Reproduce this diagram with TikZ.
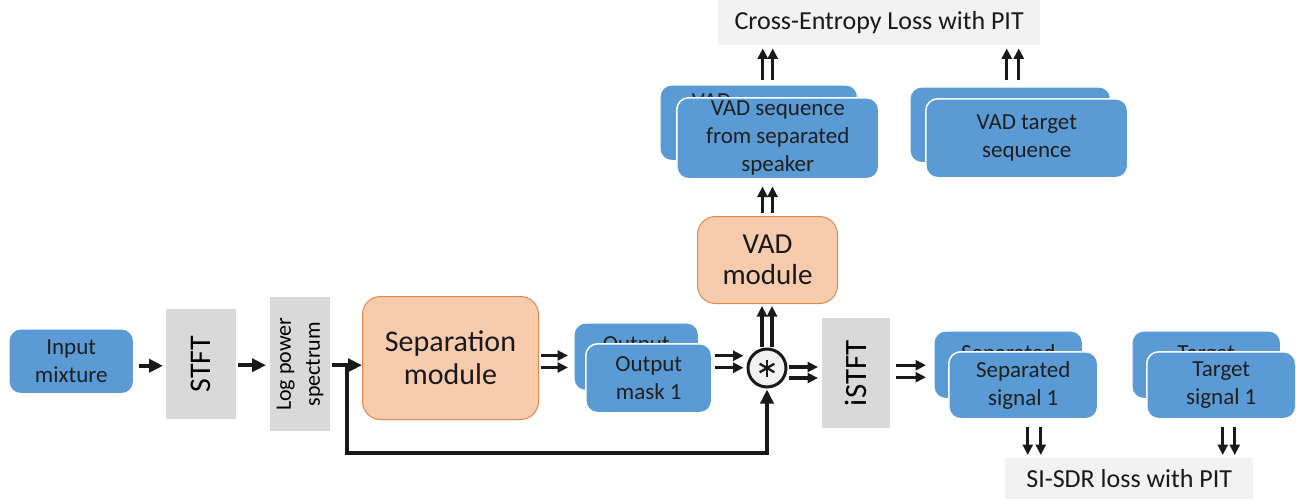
\documentclass[tikz,border=0pt]{standalone}
\usepackage{fontspec}
\setmainfont{Carlito}
\usetikzlibrary{arrows.meta,calc}
\definecolor{boxblue}{HTML}{5B9BD5}
\definecolor{modfill}{HTML}{F8CBAD}
\definecolor{moddraw}{HTML}{E08850}
\definecolor{procgray}{HTML}{D9D9D9}
\definecolor{lossgray}{HTML}{F2F2F2}
\begin{document}
\begin{tikzpicture}[x=1pt,y=-1pt,
  blk/.style={anchor=north west, inner sep=0pt, align=center},
  sig/.style={blk, fill=boxblue, draw=white, line width=1.5pt, rounded corners=12pt,
    text=black!88, font=\fontsize{23}{28}\selectfont},
  peek/.style={anchor=base, inner sep=0pt, text=black!88, font=\fontsize{23}{28}\selectfont},
  proc/.style={blk, fill=procgray},
  module/.style={blk, fill=modfill, draw=moddraw, line width=1pt, rounded corners=18pt,
    text=black!90},
  loss/.style={blk, fill=lossgray, text=black!90, font=\fontsize{26}{30}\selectfont},
  one/.style={-{Triangle[length=14pt,width=13pt]}, line width=4pt, black!90},
  dbl/.style={-{Triangle[length=10.5pt,width=10pt]}, line width=3.2pt, black!90},
]
\useasboundingbox (0,0) rectangle (1296,499);

% input and front end
\node[sig, minimum width=125pt, minimum height=65pt] (inp) at (8,328) {Input\\mixture};
\node[proc, minimum width=70pt, minimum height=110pt] (stft) at (166,309)
  {\rotatebox{90}{\fontsize{30}{30}\selectfont STFT}};
\node[proc, minimum width=60pt, minimum height=134pt] (lps) at (270,297)
  {\rotatebox{90}{\parbox{120pt}{\centering\fontsize{22}{29}\selectfont Log power\\spectrum}}};

% separation
\node[module, minimum width=176pt, minimum height=123pt, font=\fontsize{30}{33}\selectfont]
  (sep) at (362,296) {Separation\\module};

% masks (second speaker behind the first)
\node[sig, minimum width=125pt, minimum height=68pt] (m2) at (573,322) {};
\node[peek] (m2txt) at ($(m2.north)+(0,29)$) {Output};
\node[sig, minimum width=126pt, minimum height=69pt] (m1) at (585,343) {Output\\mask 1};

% masking operation
\node[circle, draw=black!90, line width=3pt, fill=lossgray, minimum size=38pt, inner sep=0pt]
  (circ) at (767,368) {};
\foreach \a in {90,30,150}
  \draw[line width=2.3pt, black!90] ($(circ.center)+(\a:8.5)$) -- ($(circ.center)+(\a+180:8.5)$);

% VAD branch
\node[module, minimum width=140pt, minimum height=87pt, font=\fontsize{29}{31}\selectfont]
  (vad) at (697,216) {VAD\\module};
\node[sig, minimum width=198pt, minimum height=76pt] (vs2) at (659,84) {};
\node[peek] (vs2txt) at ($(vs2.north)+(0,24)$) {VAD sequence};
\node[sig, minimum width=202pt, minimum height=81pt] (vs1) at (676,97)
  {VAD sequence\\from separated\\speaker};
\node[sig, minimum width=201pt, minimum height=76pt] (vt2) at (909,86) {};
\node[sig, minimum width=202pt, minimum height=79pt] (vt1) at (925,98) {VAD target\\sequence};
\node[loss, minimum width=322pt, minimum height=45pt] (ce) at (718,0) {Cross-Entropy Loss with PIT};

% reconstruction
\node[proc, minimum width=68pt, minimum height=110pt] (istft) at (822,318)
  {\rotatebox{90}{\fontsize{31}{31}\selectfont iSTFT}};
\node[sig, minimum width=149pt, minimum height=68pt] (s2) at (933,330) {};
\node[peek] (s2txt) at ($(s2.north)+(0,30)$) {Separated};
\node[sig, minimum width=149pt, minimum height=67pt] (s1) at (948,351) {Separated\\signal 1};
\node[sig, minimum width=149pt, minimum height=68pt] (t2) at (1131,330) {};
\node[peek] (t2txt) at ($(t2.north)+(0,30)$) {Target};
\node[sig, minimum width=149pt, minimum height=67pt] (t1) at (1146,351) {Target\\signal 1};
\node[loss, minimum width=248pt, minimum height=41pt] (sisdr) at (1005,458) {SI-SDR loss with PIT};

% single connectors
\draw[one, shorten <=4pt, shorten >=3pt] ([yshift=-4.5pt]inp.east) -- ([yshift=-4.5pt]inp.east -| stft.west);
\draw[one, shorten <=2pt, shorten >=4pt] ([yshift=-1pt]stft.east) -- ([yshift=-1pt]stft.east -| lps.west);
\draw[one, shorten <=2pt] ([yshift=-1pt]lps.east) -- ([yshift=-1pt]lps.east -| sep.west);
\coordinate (br) at (347,365);
\coordinate (low) at (347,453);
\draw[one, shorten >=1pt] (br) -- (low) -| (circ.south);

% paired connectors
\foreach \d in {2.5,-9.5}
  \draw[dbl, shorten <=2pt, shorten >=5pt] ([yshift=\d pt]sep.east) -- ([yshift=\d pt]sep.east -| m2.west);
\foreach \d in {22.5,10.5}
  \draw[dbl, shorten <=2pt, shorten >=3pt] ([yshift=\d pt]m1.east) -- ([yshift=\d pt]m1.east -| circ.west);
\foreach \d in {1,-10}
  \draw[dbl, shorten <=1pt, shorten >=4pt] ([yshift=\d pt]circ.east) -- ([yshift=\d pt]circ.east -| istft.west);
\foreach \d in {-5,5}
  \draw[dbl, shorten <=1pt, shorten >=2pt] ([xshift=\d pt]circ.north) -- ([xshift=\d pt]circ.north |- vad.south);
\foreach \d in {8,-4}
  \draw[dbl, shorten <=6pt, shorten >=7pt] ([yshift=\d pt]istft.east) -- ([yshift=\d pt]istft.east -| s2.west);
\foreach \d in {4.5,17.5}
  \draw[dbl, shorten <=7pt, shorten >=3pt] ([xshift=\d pt]s1.south) -- ([xshift=\d pt]s1.south |- sisdr.north);
\foreach \d in {1.5,13.5}
  \draw[dbl, shorten <=7pt, shorten >=3pt] ([xshift=\d pt]t1.south) -- ([xshift=\d pt]t1.south |- sisdr.north);
\foreach \d in {-5,5}
  \draw[dbl, shorten <=3pt, shorten >=7pt] ([xshift=\d pt]vad.north) -- ([xshift=\d pt]vad.north |- vs1.south);
\foreach \d in {4,14}
  \draw[dbl, shorten <=4pt, shorten >=3pt] ([xshift=\d pt]vs2.north) -- ([xshift=\d pt]vs2.north |- ce.south);
\foreach \d in {-3.5,8.5}
  \draw[dbl, shorten <=6pt, shorten >=3pt] ([xshift=\d pt]vt2.north) -- ([xshift=\d pt]vt2.north |- ce.south);
\end{tikzpicture}
\end{document}
